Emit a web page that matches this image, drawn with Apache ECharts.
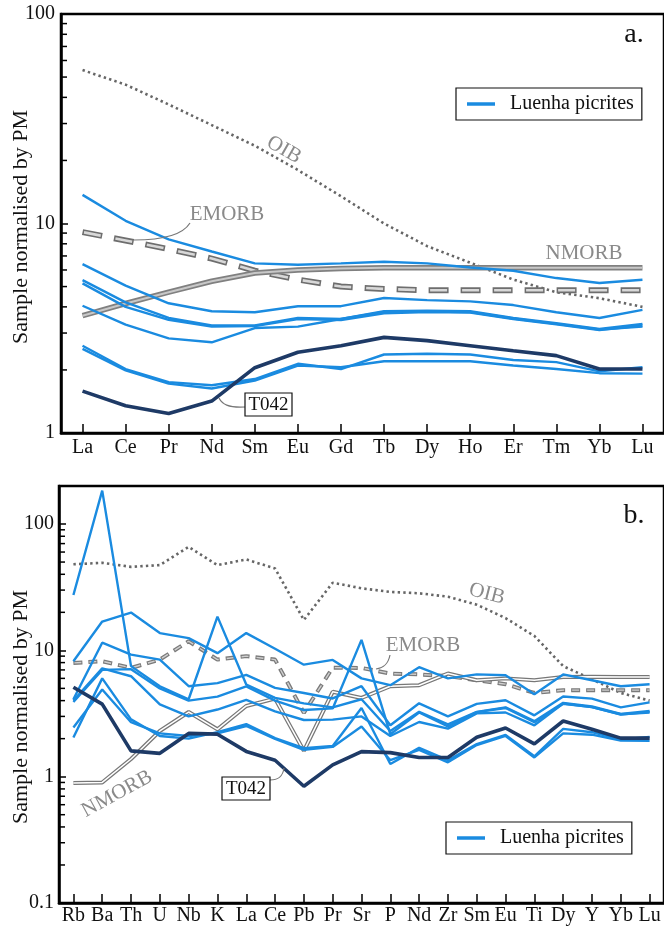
<!DOCTYPE html>
<html><head><meta charset="utf-8">
<script src="https://cdn.jsdelivr.net/npm/echarts@6/dist/echarts.min.js"></script>
<style>html,body{margin:0;padding:0;background:#fff}#c{width:664px;height:928px}</style>
</head><body><div id="c"></div>
<script>
// ---------- categories ----------
const reeCats = ['La','Ce','Pr','Nd','Sm','Eu','Gd','Tb','Dy','Ho','Er','Tm','Yb','Lu'];
const spiderCats = ['Rb','Ba','Th','U','Nb','K','La','Ce','Pb','Pr','Sr','P','Nd','Zr','Sm','Eu','Ti','Dy','Y','Yb','Lu'];

// ---------- panel a (REE, PM-normalised) ----------
const reeOIB   = [54, 46, 37, 29.5, 23.5, 18, 13.5, 10, 7.8, 6.5, 5.4, 4.7, 4.4, 4.0];
const reeEMORB = [9.1, 8.3, 7.55, 6.8, 5.95, 5.4, 5.0, 4.87, 4.8, 4.8, 4.8, 4.8, 4.8, 4.8];
const reeNMORB = [3.63, 4.15, 4.7, 5.3, 5.8, 6.0, 6.1, 6.15, 6.15, 6.15, 6.15, 6.15, 6.15, 6.15];
const reeL1 = [13.7, 10.3, 8.4, 7.35, 6.45, 6.35, 6.45, 6.57, 6.45, 6.17, 5.95, 5.49, 5.2, 5.39];
const reeL2 = [6.4, 5.05, 4.16, 3.81, 3.77, 4.03, 4.03, 4.41, 4.31, 4.25, 4.08, 3.77, 3.54, 3.87];
const reeL3 = [5.37, 4.2, 3.54, 3.26, 3.26, 3.54, 3.5, 3.81, 3.84, 3.81, 3.54, 3.34, 3.14, 3.32];
const reeL4 = [5.18, 4.0, 3.47, 3.22, 3.24, 3.5, 3.46, 3.73, 3.78, 3.76, 3.5, 3.3, 3.1, 3.26];
const reeL5 = [4.05, 3.29, 2.83, 2.71, 3.17, 3.22, 3.5, 3.78, 3.8, 3.78, 3.52, 3.32, 3.12, 3.22];
const reeL6 = [2.61, 2.02, 1.75, 1.69, 1.81, 2.14, 2.02, 2.37, 2.39, 2.37, 2.23, 2.18, 1.97, 2.06];
const reeL7 = [2.52, 1.99, 1.72, 1.63, 1.78, 2.10, 2.06, 2.2, 2.2, 2.2, 2.1, 2.02, 1.93, 1.92];
const reeT042 = [1.585, 1.35, 1.24, 1.42, 2.05, 2.43, 2.61, 2.86, 2.76, 2.61, 2.47, 2.34, 2.02, 2.02];

// ---------- panel b (multi-element, PM-normalised) ----------
const spOIB   = [48, 49.3, 45.8, 47.3, 66, 47.3, 52.4, 44.5, 17.4, 34.3, 31, 29, 28.3, 26.6, 23, 18, 13, 7.5, 5.9, 4.6, 4.0];
const spEMORB = [7.95, 8.2, 7.26, 8.45, 11.8, 8.45, 9.0, 8.45, 3.2, 7.3, 7.26, 6.55, 6.45, 6.25, 5.8, 5.4, 4.6, 4.84, 4.84, 4.84, 4.84];
const spNMORB = [0.89, 0.90, 1.38, 2.3, 3.25, 2.37, 3.63, 4.15, 1.6, 4.7, 4.2, 5.2, 5.3, 6.55, 5.8, 6.0, 5.8, 6.15, 6.17, 6.15, 6.15];
const spL1 = [8.2, 16.9, 19.9, 13.7, 12.5, 9.5, 13.7, 10.3, 7.7, 8.4, 6.0, 5.3, 7.35, 6.0, 6.45, 6.35, 4.5, 6.45, 5.8, 5.2, 5.39];
const spL2 = [4.1, 11.5, 9.25, 8.45, 5.2, 5.5, 6.4, 5.05, 4.6, 4.16, 5.2, 2.55, 3.81, 3.0, 3.77, 4.03, 3.06, 4.31, 4.15, 3.54, 3.87];
const spL3 = [27.4, 184, 7.5, 5.2, 4.1, 18.5, 5.37, 4.2, 3.8, 3.54, 4.1, 2.3, 3.26, 2.6, 3.26, 3.54, 2.75, 3.84, 3.6, 3.14, 3.32];
const spL4 = [3.9, 7.0, 7.1, 5.0, 4.0, 4.3, 5.18, 4.0, 3.37, 3.47, 12.1, 2.17, 3.22, 2.5, 3.24, 3.5, 2.7, 3.78, 3.55, 3.1, 3.26];
const spL5 = [4.0, 7.2, 6.24, 3.73, 3.0, 3.4, 4.05, 3.29, 2.81, 2.83, 3.0, 2.1, 2.71, 2.4, 3.17, 3.22, 2.55, 3.8, 3.55, 3.12, 3.22];
const spL6 = [2.04, 6.0, 2.84, 2.1, 2.0, 2.25, 2.61, 2.02, 1.68, 1.75, 3.5, 1.26, 1.69, 1.35, 1.81, 2.14, 1.45, 2.39, 2.25, 1.97, 2.06];
const spL7 = [2.45, 4.9, 2.7, 2.2, 2.1, 2.2, 2.52, 1.99, 1.63, 1.72, 2.5, 1.35, 1.63, 1.3, 1.78, 2.10, 1.42, 2.2, 2.15, 1.93, 1.92];
const spT042 = [5.1, 3.75, 1.6, 1.53, 2.2, 2.17, 1.585, 1.35, 0.84, 1.24, 1.58, 1.55, 1.42, 1.42, 2.05, 2.43, 1.82, 2.76, 2.37, 2.02, 2.02];

const yTicksA = [1, 10, 100];
const yTicksB = [0.1, 1, 10, 100];

// ---------- styling ----------
const FONT = '"Liberation Serif", "DejaVu Serif", serif';
const BLUE = '#1a8be0';
const DARK = '#1e3a66';
const GREY = '#8a8a8a';
const LEGEND_NAME = 'Luenha picrites';

const chart = echarts.init(document.getElementById('c'), null, {renderer: 'canvas'});

function ser(name, data, idx, lineStyle, z) {
  return {name: name, type: 'line', xAxisIndex: idx, yAxisIndex: idx, data: data,
          symbol: 'none', showSymbol: false, silent: true, animation: false,
          itemStyle: {color: lineStyle.color},
          lineStyle: lineStyle, z: z || 2};
}
function blue(name, data, idx) { return ser(name, data, idx, {color: BLUE, width: 2.4}, 3); }

function logLabel(v) {
  const l = Math.log10(v);
  const e = Math.round(l);
  if (Math.abs(l - e) > 1e-6) return '';
  return e >= 0 ? String(Math.pow(10, e)) : Math.pow(10, e).toFixed(-e);
}

function xAxisCfg(idx, cats, margin) {
  return {type: 'category', gridIndex: idx, data: cats, boundaryGap: true,
    axisLine: {show: true, lineStyle: {color: '#000', width: 2.5}},
    axisTick: {show: true, alignWithLabel: true, inside: true, length: 9, lineStyle: {color: '#000', width: 1.5}},
    axisLabel: {interval: 0, fontFamily: FONT, fontSize: 20, color: '#111', margin: margin},
    splitLine: {show: false}};
}
function yAxisCfg(idx, min, max, margin) {
  return {type: 'log', logBase: 10, gridIndex: idx, min: min, max: max,
    axisLine: {show: true, lineStyle: {color: '#000', width: 2.5}},
    axisTick: {show: true, inside: true, length: 7, lineStyle: {color: '#000', width: 1.5}},
    axisLabel: {fontFamily: FONT, fontSize: 20, color: '#111', margin: margin, formatter: logLabel},
    splitLine: {show: false}};
}

const legendBase = {
  data: [{name: LEGEND_NAME, icon: 'rect'}], orient: 'horizontal', itemWidth: 28, itemHeight: 3.5,
  itemStyle: {color: BLUE, borderWidth: 0},
  borderColor: '#111', borderWidth: 1.2, borderRadius: 0, backgroundColor: '#fff',
  padding: [5, 8, 5, 11], selectedMode: false,
  textStyle: {fontFamily: FONT, fontSize: 20, color: '#111', padding: [0, 0, 0, 10], lineHeight: 22}
};

const option = {
  animation: false,
  backgroundColor: '#fff',
  grid: [
    {left: 61, top: 14, width: 605, height: 419, show: true, borderColor: '#000', borderWidth: 2.5, backgroundColor: 'transparent'},
    {left: 59, top: 486, width: 608, height: 417, show: true, borderColor: '#000', borderWidth: 2.5, backgroundColor: 'transparent'}
  ],
  xAxis: [xAxisCfg(0, reeCats, 5), xAxisCfg(1, spiderCats, 3)],
  yAxis: [yAxisCfg(0, 1, 100, 6), yAxisCfg(1, 0.1, 200, 5)],
  legend: [
    Object.assign({}, legendBase, {left: 456, top: 88}),
    Object.assign({}, legendBase, {left: 446, top: 822})
  ],
  series: [
    // panel a reference curves
    ser('OIB a', reeOIB, 0, {color: '#666', width: 2.6, type: [2.4, 3.2]}, 1),
    ser('EMORB a', reeEMORB, 0, {color: '#6e6e6e', width: 6, type: [20, 12]}, 1),
    ser('EMORB a in', reeEMORB, 0, {color: '#d8d8d8', width: 2.6, type: [17, 15], dashOffset: -1.5}, 1),
    ser('NMORB a', reeNMORB, 0, {color: '#808080', width: 5.5}, 1),
    ser('NMORB a in', reeNMORB, 0, {color: '#c8c8c8', width: 2}, 1),
    // panel a samples
    blue(LEGEND_NAME, reeL1, 0),
    blue('a L2', reeL2, 0), blue('a L3', reeL3, 0), blue('a L4', reeL4, 0),
    blue('a L5', reeL5, 0), blue('a L6', reeL6, 0), blue('a L7', reeL7, 0),
    ser('T042 a', reeT042, 0, {color: DARK, width: 3.6}, 4),
    // panel b reference curves
    ser('OIB b', spOIB, 1, {color: '#666', width: 2.6, type: [2.4, 3.2]}, 1),
    ser('EMORB b', spEMORB, 1, {color: '#7a7a7a', width: 4, type: [9, 6]}, 1),
    ser('EMORB b in', spEMORB, 1, {color: '#d0d0d0', width: 1.4, type: [7, 8], dashOffset: -1}, 1),
    ser('NMORB b', spNMORB, 1, {color: '#777', width: 4}, 1),
    ser('NMORB b in', spNMORB, 1, {color: '#fff', width: 1.5}, 1),
    // panel b samples
    blue(LEGEND_NAME, spL1, 1),
    blue('b L2', spL2, 1), blue('b L3', spL3, 1), blue('b L4', spL4, 1),
    blue('b L5', spL5, 1), blue('b L6', spL6, 1), blue('b L7', spL7, 1),
    ser('T042 b', spT042, 1, {color: DARK, width: 3.6}, 4)
  ]
};
chart.setOption(option);

// ---------- graphics: minor ticks, labels, annotations ----------
const g = [];
function minorTicks(axisIdx, majors, x0) {
  for (let i = 0; i < majors.length - 1; i++) {
    for (let k = 2; k <= 9; k++) {
      const v = majors[i] * k;
      const y = chart.convertToPixel({yAxisIndex: axisIdx}, v);
      g.push({type: 'line', silent: true, z: 10,
        shape: {x1: x0, y1: y, x2: x0 + 6, y2: y}, style: {stroke: '#000', lineWidth: 1.5}});
    }
  }
}
minorTicks(0, yTicksA, 61);
minorTicks(1, yTicksB, 59);

function txt(text, x, y, size, color, rot, extra) {
  return Object.assign({type: 'text', x: x, y: y, rotation: rot || 0, silent: true, z: 20,
    style: {text: text, fontFamily: FONT, fontSize: size, fill: color, align: 'center', verticalAlign: 'middle'}}, extra || {});
}
function curve(x1, y1, c1x, c1y, c2x, c2y, x2, y2) {
  return {type: 'bezierCurve', silent: true, z: 19,
    shape: {x1: x1, y1: y1, cpx1: c1x, cpy1: c1y, cpx2: c2x, cpy2: c2y, x2: x2, y2: y2},
    style: {stroke: '#777', lineWidth: 1.2, fill: null}};
}
function boxLabel(text, x, y, w, h) {
  g.push({type: 'rect', silent: true, z: 20, shape: {x: x, y: y, width: w, height: h},
    style: {fill: '#fff', stroke: '#111', lineWidth: 1.2}});
  g.push(txt(text, x + w / 2, y + h / 2 + 1, 19, '#111', 0));
}

// axis names
g.push(txt('Sample normalised by PM', 21, 227, 22, '#111', Math.PI / 2));
g.push(txt('Sample normalised by PM', 21, 707, 22, '#111', Math.PI / 2));
// panel letters
g.push(txt('a.', 634, 35, 28, '#111', 0));
g.push(txt('b.', 634, 516, 28, '#111', 0));

// panel a annotations
g.push(txt('OIB', 284, 150, 21, GREY, -0.52));
g.push(txt('EMORB', 227, 214, 21, GREY, 0));
g.push(curve(190, 223, 182, 236, 160, 240, 134, 240));
g.push(txt('NMORB', 584, 253, 21, GREY, 0));
g.push(curve(245, 407, 228, 408, 222, 404, 219, 398));
boxLabel('T042', 245, 393, 47, 23);

// panel b annotations
g.push(txt('OIB', 487, 594, 21, GREY, -0.25));
g.push(txt('EMORB', 423, 645, 21, GREY, 0));
g.push(curve(390, 655, 388, 665, 383, 668, 376, 669));
g.push(txt('NMORB', 117, 794, 21, GREY, 0.5));
g.push(curve(270, 780, 280, 780, 283, 775, 284, 768));
boxLabel('T042', 222, 777, 48, 23);

chart.setOption({graphic: g});
</script>
</body></html>
